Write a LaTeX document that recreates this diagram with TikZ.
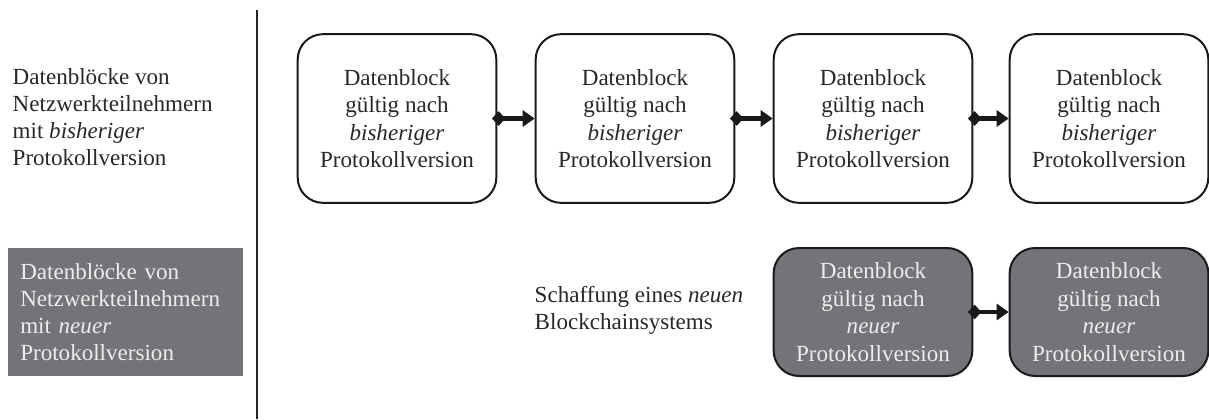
\documentclass[tikz,border=0pt]{standalone}
\usepackage{fontspec}
\setmainfont{Liberation Serif}
\usetikzlibrary{arrows.meta}

\definecolor{blockgray}{RGB}{115,115,120}
\definecolor{inkgray}{RGB}{40,40,40}

\tikzset{
  block/.style={draw=black!90, line width=1.5pt, rounded corners=19pt,
    minimum width=149pt, minimum height=126.5pt, align=center, text=inkgray},
  newblock/.style={block, fill=blockgray, text=white!93!black, minimum height=96pt},
  link/.style={line width=3.4pt, black!90,
    {Diamond[length=10pt,width=11pt]}-{Triangle[length=9pt,width=12pt]},
    shorten <=-4pt}
}

\begin{document}
\begin{tikzpicture}[x=0.75pt, y=-0.75pt,
  font=\fontsize{17.3pt}{20.2pt}\selectfont]

\useasboundingbox (0,0) rectangle (1209,419);

% linke Spalte
\node[anchor=west, align=left, text=inkgray] (altlabel) at (8,117)
  {Datenblöcke von\\Netzwerkteilnehmern\\mit \textit{bisheriger}\\Protokollversion};
\node[anchor=north west, fill=blockgray, text=white!93!black, align=left,
  text width=158pt, inner xsep=9pt, minimum height=95.5pt] (neulabel) at (8,248)
  {Datenblöcke von\\Netzwerkteilnehmern\\mit \textit{neuer}\\Protokollversion};

% Trennlinie
\draw[line width=1.3pt, black!85] (257,10) -- (257,419);

% bisherige Kette
\node[block, font=\fontsize{17.3pt}{20.6pt}\selectfont] (b1) at (397,118.5) {Datenblock\\gültig nach\\\textit{bisheriger}\\Protokollversion};
\node[block, font=\fontsize{17.3pt}{20.6pt}\selectfont] (b2) at (635,118.5) {Datenblock\\gültig nach\\\textit{bisheriger}\\Protokollversion};
\node[block, font=\fontsize{17.3pt}{20.6pt}\selectfont] (b3) at (873,118.5) {Datenblock\\gültig nach\\\textit{bisheriger}\\Protokollversion};
\node[block, font=\fontsize{17.3pt}{20.6pt}\selectfont] (b4) at (1109,118.5) {Datenblock\\gültig nach\\\textit{bisheriger}\\Protokollversion};

\draw[link] (b1.east) -- (b2.west);
\draw[link] (b2.east) -- (b3.west);
\draw[link] (b3.east) -- (b4.west);

% neue Kette
\node[anchor=west, align=left, text=inkgray] (fork) at (530,310)
  {Schaffung eines \textit{neuen}\\Blockchainsystems};

\node[newblock, font=\fontsize{17.3pt}{20.6pt}\selectfont] (n1) at (873,312) {Datenblock\\gültig nach\\\textit{neuer}\\Protokollversion};
\node[newblock, font=\fontsize{17.3pt}{20.6pt}\selectfont] (n2) at (1109,312) {Datenblock\\gültig nach\\\textit{neuer}\\Protokollversion};

\draw[link] (n1.east) -- (n2.west);

\end{tikzpicture}
\end{document}
